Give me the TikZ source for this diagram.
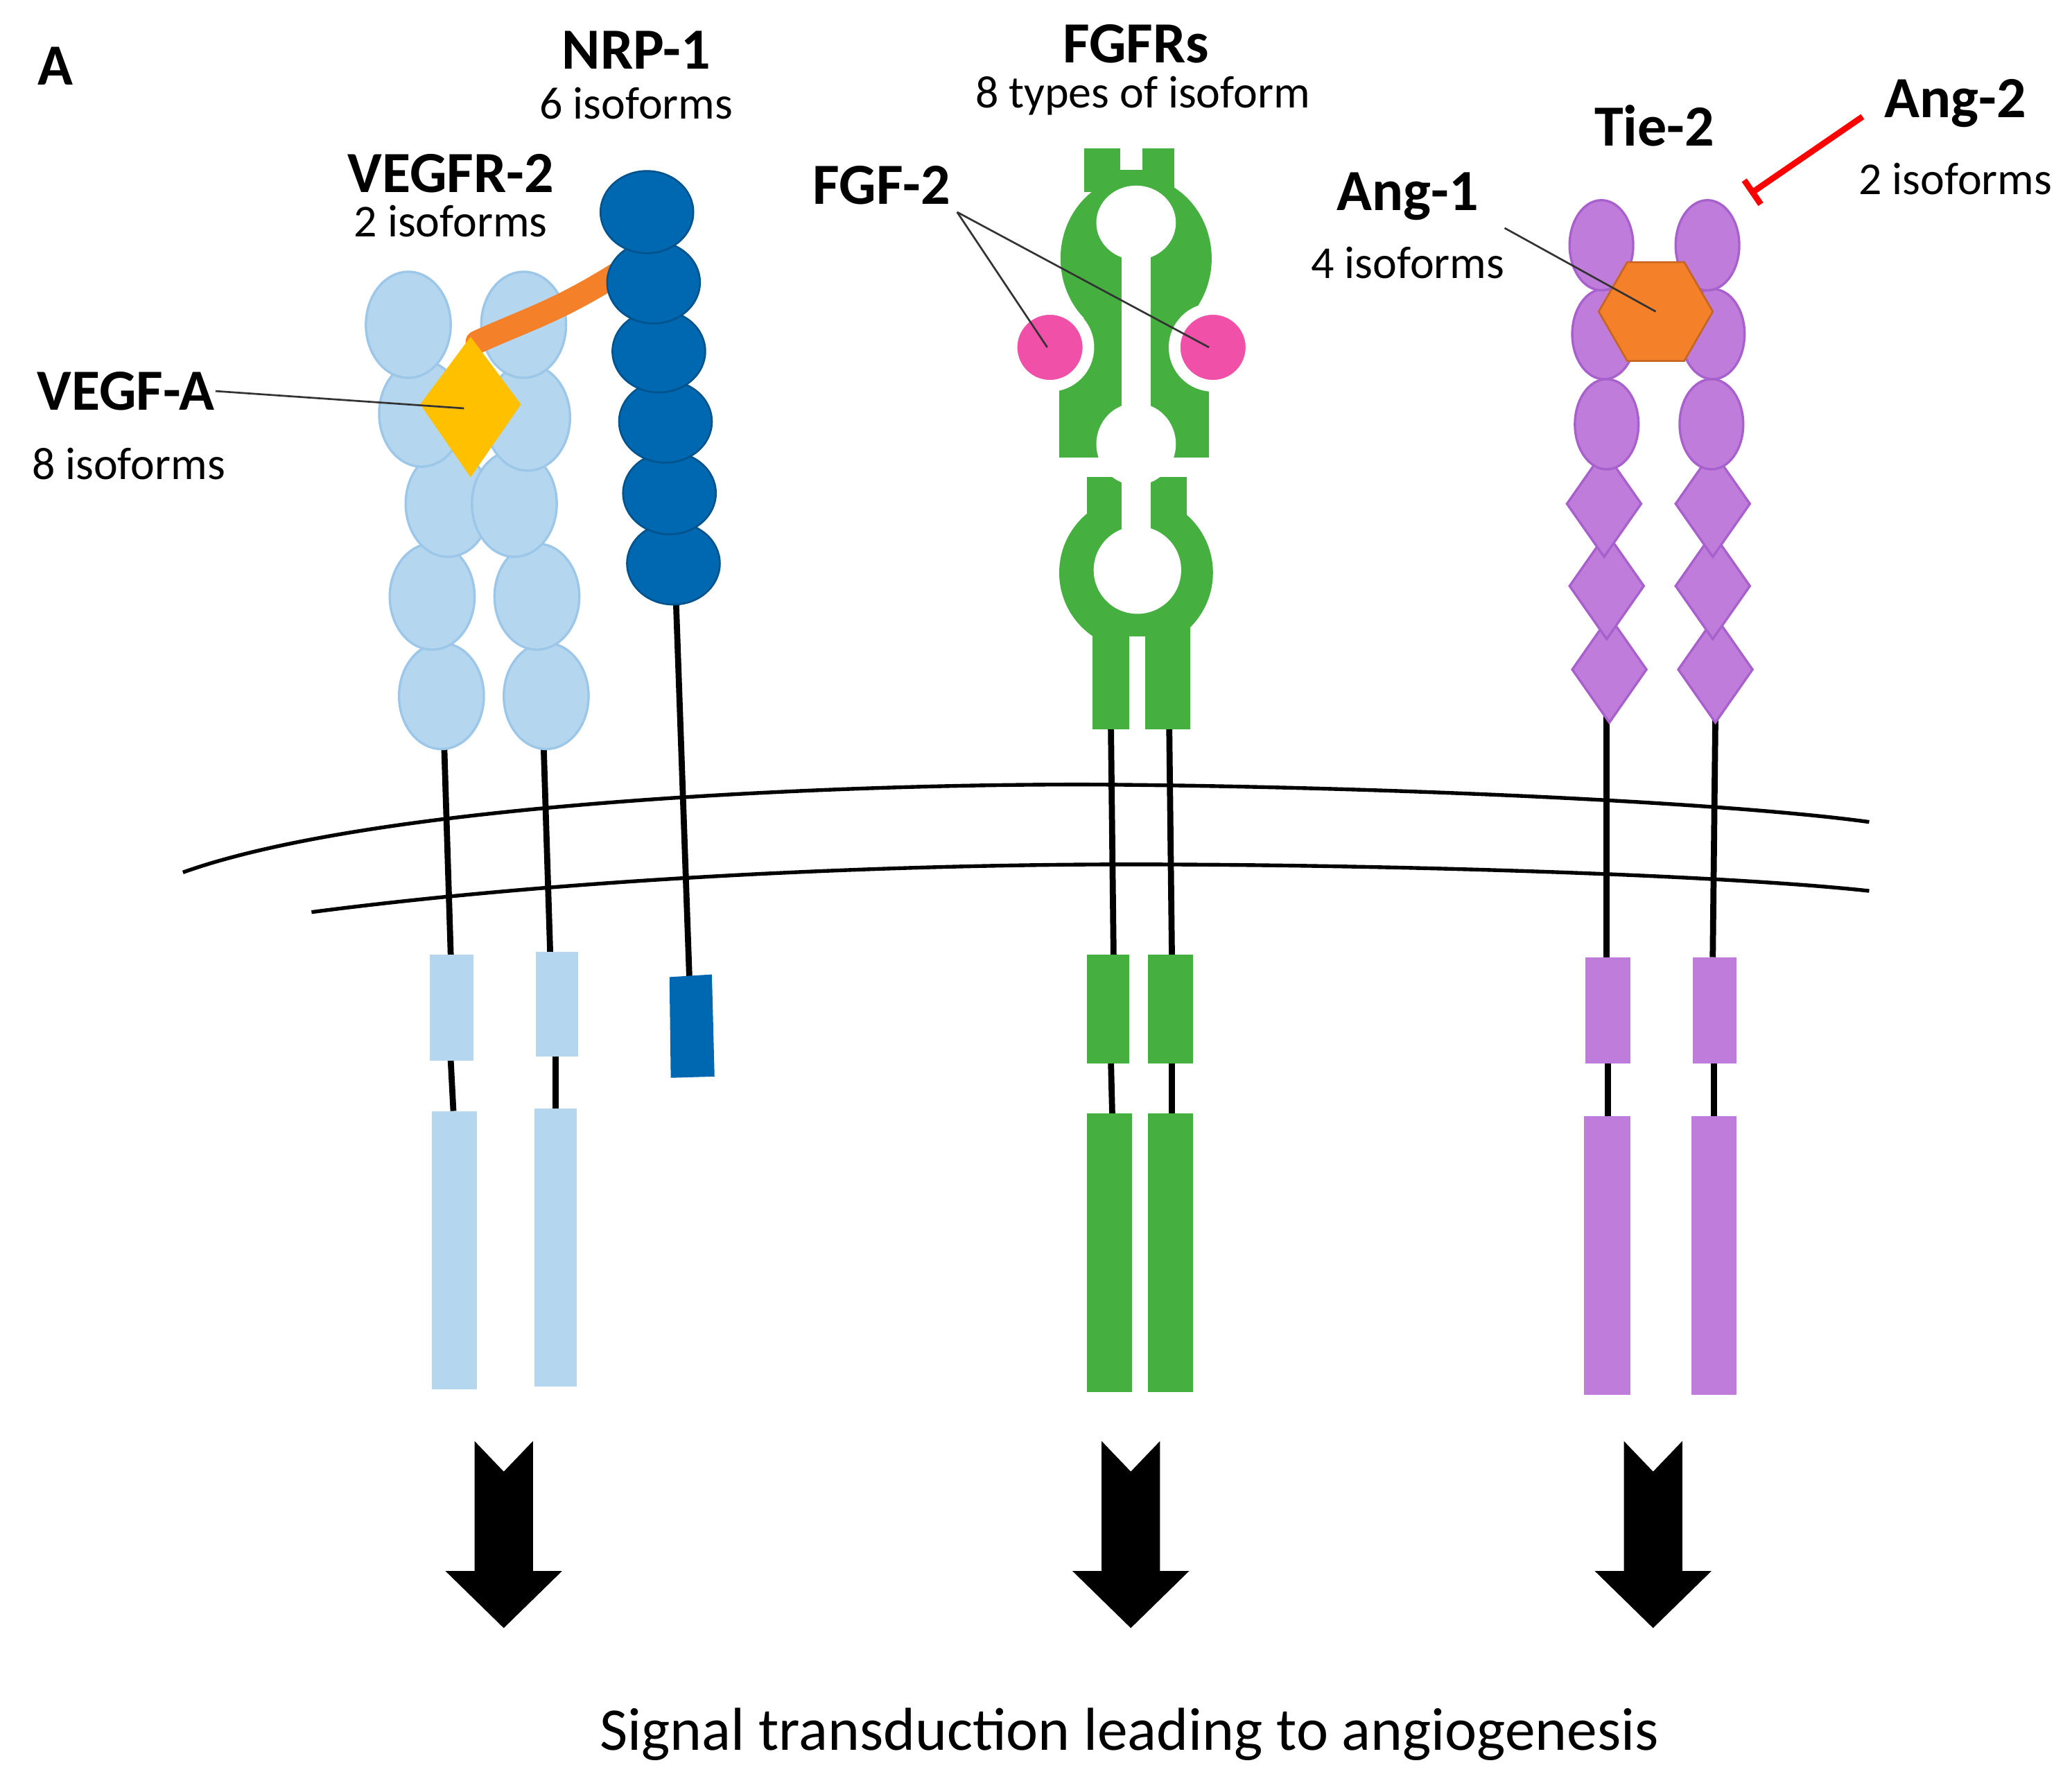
\documentclass[tikz,border=0pt]{standalone}
\usepackage{fontspec}
\setmainfont{Carlito}
\usetikzlibrary{shapes.geometric,calc}
\definecolor{lblue}{HTML}{B4D6EE}
\definecolor{lblueD}{HTML}{9CC7E8}
\definecolor{dblue}{HTML}{0068B0}
\definecolor{fgreen}{HTML}{45B03F}
\definecolor{pinkc}{HTML}{F050A8}
\definecolor{purp}{HTML}{C07CDA}
\definecolor{purpD}{HTML}{A860CC}
\definecolor{orng}{HTML}{F5802A}
\definecolor{yel}{HTML}{FFC000}
\tikzset{
  big/.style={font=\bfseries\fontsize{12.5pt}{14pt}\selectfont, inner sep=0pt},
  small/.style={font=\fontsize{9.8pt}{12pt}\selectfont, inner sep=0pt},
  stalk/.style={line width=1.3pt, black},
  lead/.style={line width=0.4pt, black!80},
  vb/.style={fill=lblue, draw=lblueD, line width=0.5pt},
  nb/.style={fill=dblue, draw=dblue!80!black, line width=0.4pt},
  pb/.style={fill=purp, draw=purpD, line width=0.5pt},
  mem/.style={line width=0.8pt, black},
  barrow/.style={fill=black}
}
\begin{document}
\begin{tikzpicture}[x=0.01cm,y=-0.01cm]
\useasboundingbox (0,0) rectangle (1563,1343);
% membrane
\draw[mem] (138,658) .. controls (300,600) and (700,590) .. (850,592) .. controls (1050,594) and (1300,605) .. (1410,620);
\draw[mem] (235,688) .. controls (450,660) and (700,652) .. (850,652) .. controls (1050,652) and (1300,660) .. (1410,672);
% ===== VEGFR-2 =====
\draw[stalk] (335,560) -- (340,720);
\draw[stalk] (410,560) -- (415,718);
\draw[stalk] (340,800) -- (342,838);
\draw[stalk] (419,797) -- (419,836);
\fill[lblue] (324,720) rectangle (357,800);
\fill[lblue] (404,718) rectangle (436,797);
\fill[lblue] (326,838) rectangle (360,1048);
\fill[lblue] (403,836) rectangle (435,1046);
\foreach \x/\y in {333/525,326/450,338/380,318/312,308/245}{\draw[vb] (\x,\y) ellipse [x radius=32, y radius=40];}
\foreach \x/\y in {412/525,405/450,388/380,398/315,395/245}{\draw[vb] (\x,\y) ellipse [x radius=32, y radius=40];}
\draw[orng, line width=5pt, line cap=round] (360,258) .. controls (400,240) and (420,235) .. (468,205);
\fill[yel] (355,254) -- (393,305) -- (355,360) -- (317,305) -- cycle;
\coordinate (vegfaC) at (350,308);
% ===== NRP-1 =====
\draw[stalk] (510,455) -- (520,737);
\fill[dblue] (505,737) -- (537,735) -- (539,812) -- (506,813) -- cycle;
\foreach \x/\y in {508/425,505/372,502/318,497/265,493/213,488/160}{\draw[nb] (\x,\y) ellipse [x radius=35, y radius=31];}
% ===== FGFR =====
\draw[stalk] (838,548) -- (840,720);
\draw[stalk] (882,548) -- (884,720);
\draw[stalk] (838,800) -- (839,840);
\draw[stalk] (884,800) -- (884,840);
\fill[fgreen] (820,720) rectangle (852,802);
\fill[fgreen] (866,720) rectangle (900,802);
\fill[fgreen] (820,840) rectangle (854,1050);
\fill[fgreen] (866,840) rectangle (900,1050);
\fill[fgreen] (818,112) rectangle (845,145);
\fill[fgreen] (862,112) rectangle (886,145);
\fill[fgreen] (845,128) rectangle (862,145);
\fill[fgreen] (857,195) ellipse [x radius=57, y radius=62];
\fill[fgreen] (799,240) rectangle (912,345);
\fill[fgreen] (857,432) ellipse [x radius=58, y radius=58];
\fill[fgreen] (820,360) rectangle (895,400);
\fill[fgreen] (824,470) rectangle (898,550);
\fill[white] (857,168) ellipse [x radius=30, y radius=28];
\fill[white] (857,335) ellipse [x radius=30, y radius=31];
\fill[white] (858,430) ellipse [x radius=33, y radius=33];
\fill[white] (846,190) rectangle (868,410);
\fill[white] (852,480) rectangle (864,551);
\draw[fill=pinkc, draw=white, line width=2.5pt] (792,262) circle (29);
\draw[fill=pinkc, draw=white, line width=2.5pt] (915,262) circle (29);
\coordinate (fgfL) at (790,262);
\coordinate (fgfR) at (912,262);
% ===== Tie-2 =====
\draw[stalk] (1212,540) -- (1212,722);
\draw[stalk] (1294,540) -- (1292,722);
\draw[stalk] (1213,802) -- (1213,842);
\draw[stalk] (1293,802) -- (1293,842);
\fill[purp] (1196,722) rectangle (1230,802);
\fill[purp] (1277,722) rectangle (1310,802);
\fill[purp] (1195,842) rectangle (1230,1052);
\fill[purp] (1276,842) rectangle (1310,1052);
\foreach \x/\y in {1214/505,1212/442,1210/380}{\draw[pb] (\x,\y-40) -- (\x+28,\y) -- (\x,\y+40) -- (\x-28,\y) -- cycle;}
\foreach \x/\y in {1294/505,1292/442,1292/380}{\draw[pb] (\x,\y-40) -- (\x+28,\y) -- (\x,\y+40) -- (\x-28,\y) -- cycle;}
\foreach \x/\y in {1212/320,1210/252,1208/185}{\draw[pb] (\x,\y) ellipse [x radius=24, y radius=34];}
\foreach \x/\y in {1291/320,1292/252,1288/185}{\draw[pb] (\x,\y) ellipse [x radius=24, y radius=34];}
\node[regular polygon, regular polygon sides=6, minimum size=0.86cm, fill=orng, draw=orng!80!black, line width=0.4pt, inner sep=0pt] (hex) at (1249,235) {};
% ===== arrows =====
\foreach \c in {380,853,1247}{
  \fill[barrow] (\c-22,1087) -- (\c,1110) -- (\c+22,1087) -- (\c+22,1185) -- (\c+44,1185) -- (\c,1228) -- (\c-44,1185) -- (\c-22,1185) -- cycle;}
% ===== texts =====
\node[big] (A) at (42,50) {A};
\node[big] (nrp) at (480,38) {NRP-1};
\node[small] (nrpi) at (480,78) {6 isoforms};
\node[big] (vegfr) at (340,131) {VEGFR-2};
\node[small] (vegfri) at (340,167) {2 isoforms};
\node[big] (fgfr) at (857,33) {FGFRs};
\node[small] (fgfri) at (862,72) {8 types of isoform};
\node[big] (fgf) at (665,140) {FGF-2};
\node[big] (tie) at (1248,95) {Tie-2};
\node[big] (ang2) at (1475,78) {Ang-2};
\node[small] (ang2i) at (1475,135) {2 isoforms};
\node[big] (ang1) at (1062,148) {Ang-1};
\node[small] (ang1i) at (1062,198) {4 isoforms};
\node[big] (vegfA) at (95,295) {VEGF-A};
\node[small] (vegfAi) at (97,350) {8 isoforms};
\node[font=\fontsize{13pt}{15pt}\selectfont, inner sep=0pt] (sig) at (852,1308) {Signal transduction leading to angiogenesis};
% leaders
\draw[lead] (vegfA.east) -- (vegfaC);
\coordinate (f0) at (722,160);
\draw[lead] (f0) -- (fgfL);
\draw[lead] (f0) -- (fgfR);
\draw[lead] (1135,172) -- (hex.center);
\coordinate (inhS) at (1405,88);
\coordinate (inhE) at (1322,145);
\draw[red, line width=1.3pt] (inhS) -- (inhE);
\draw[red, line width=1.3pt] ($(inhE)!0.11cm!90:(inhS)$) -- ($(inhE)!0.11cm!-90:(inhS)$);
\end{tikzpicture}
\end{document}
